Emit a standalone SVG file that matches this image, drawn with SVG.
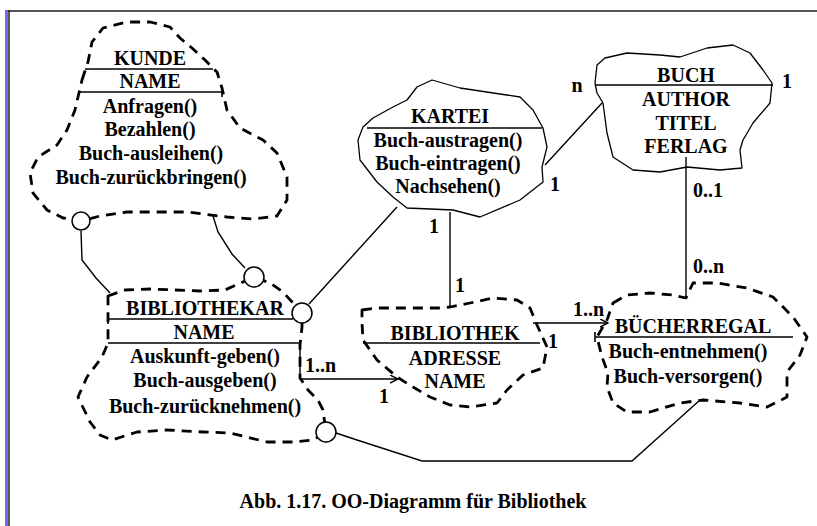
<svg xmlns="http://www.w3.org/2000/svg" width="817" height="526" viewBox="0 0 817 526">
<defs>
<style>
text{font-family:'Liberation Serif','DejaVu Serif',serif;font-weight:bold;font-size:20px;fill:#000}
.t{text-anchor:middle}
.dash{fill:none;stroke:#000;stroke-width:2.8;stroke-dasharray:10 7;stroke-linejoin:round}
.solid{fill:none;stroke:#000;stroke-width:1.3;stroke-linejoin:round}
.rule{stroke:#000;stroke-width:1.6;fill:none}
.ln{stroke:#000;stroke-width:1.4;fill:none}
.knob{fill:#fff;stroke:#000;stroke-width:1.5}
</style>
<marker id="arr" markerWidth="9" markerHeight="9" refX="8" refY="4" orient="auto" markerUnits="userSpaceOnUse">
<path d="M0,0 L8,4 L0,8" fill="none" stroke="#000" stroke-width="1.4"/>
</marker>
</defs>
<rect width="817" height="526" fill="#fff"/>
<g id="frame">
<line x1="8" y1="11" x2="817" y2="11" stroke="#555" stroke-width="2.2"/>
<line x1="6.5" y1="10" x2="6.5" y2="526" stroke="#6a6af5" stroke-width="3"/>
<line x1="9" y1="10" x2="9" y2="526" stroke="#222" stroke-width="1.5"/>
</g>
<g id="connectors">
<path class="ln" d="M81,231 L82,260 L96,278 L110,293"/>
<path class="ln" d="M213,216 L218,232 L232,254 L245,268"/>
<path class="ln" d="M309,304 L397,207"/>
<path class="ln" d="M450,212 V307"/>
<path class="ln" d="M545,165 L602,103"/>
<path class="ln" d="M686,157 V298"/>
<path class="ln" d="M533,323 H608" marker-end="url(#arr)"/>
<path class="ln" d="M300,343 V379 H398" marker-end="url(#arr)"/>
<path class="ln" d="M336,433 L357,440 L422,461 H632 L700,400"/>
</g>
<g id="kunde">
<path class="dash" d="M82,80 L88,62 L92,42 L103,28 L127,22 L150,22 L170,27 L180,38 L192,48 L205,60 L217,72 L222,88 L227,110 L240,128 L263,140 L277,153 L287,177 L287,200 L277,216 L253,219 L227,217 L187,212 L153,212 L127,212 L100,216 L81,221 L63,218 L47,210 L33,193 L30,173 L38,157 L57,145 L67,130 L75,110 L78,97 Z"/>
<circle class="knob" cx="81" cy="221" r="9"/>
<line class="rule" x1="85" y1="69" x2="213" y2="69"/>
<line class="rule" x1="78" y1="92" x2="222" y2="92"/>
<line class="rule" x1="222" y1="87" x2="222" y2="97"/>
<text class="t" x="150" y="65">KUNDE</text>
<text class="t" x="150" y="88">NAME</text>
<text class="t" x="150" y="113">Anfragen()</text>
<text class="t" x="150" y="136">Bezahlen()</text>
<text class="t" x="151" y="160">Buch-ausleihen()</text>
<text class="t" x="151" y="184">Buch-zurückbringen()</text>
</g>
<g id="kartei">
<path class="solid" d="M432,80 L460,88 L520,97 L533,110 L543,128 L547,147 L542,167 L543,182 L520,200 L480,217 L453,210 L407,208 L393,197 L377,182 L360,160 L358,140 L363,127 L373,118 L393,107 L407,100 L417,87 Z"/>
<line class="rule" x1="367" y1="128" x2="542" y2="128"/>
<text class="t" x="450" y="123">KARTEI</text>
<text class="t" x="448" y="147">Buch-austragen()</text>
<text class="t" x="448" y="170">Buch-eintragen()</text>
<text class="t" x="448" y="193">Nachsehen()</text>
</g>
<g id="buch">
<path class="solid" d="M595,83 L597,65 L605,58 L627,53 L660,55 L680,57 L707,48 L733,45 L750,53 L763,70 L772,83 L770,103 L753,123 L743,140 L740,150 L742,168 L720,170 L687,167 L660,172 L633,170 L613,157 L607,133 L603,103 L597,93 Z"/>
<line class="rule" x1="595" y1="85" x2="773" y2="85"/>
<text class="t" x="686" y="82">BUCH</text>
<text class="t" x="686" y="106">AUTHOR</text>
<text class="t" x="686" y="130">TITEL</text>
<text class="t" x="686" y="153">FERLAG</text>
</g>
<g id="bibliothekar">
<path class="dash" d="M108,296 L125,290 L150,289 L175,290 L200,291 L225,290 L254,277 L270,283 L283,292 L302,313 L302,327 L300,345 L300,378 L308,390 L318,400 L323,410 L326,432 L313,440 L293,442 L267,442 L230,433 L203,432 L167,430 L137,432 L112,440 L100,435 L90,422 L78,397 L87,377 L102,357 L108,343 L108,320 Z"/>
<circle class="knob" cx="254" cy="277" r="10"/>
<circle class="knob" cx="302" cy="313" r="10"/>
<circle class="knob" cx="326" cy="432" r="10"/>
<line class="rule" x1="108" y1="319" x2="293" y2="319"/>
<line class="rule" x1="108" y1="314" x2="108" y2="324"/>
<line class="rule" x1="108" y1="343" x2="300" y2="343"/>
<text class="t" x="205" y="315">BIBLIOTHEKAR</text>
<text class="t" x="204" y="339">NAME</text>
<text class="t" x="205" y="363">Auskunft-geben()</text>
<text class="t" x="205" y="387">Buch-ausgeben()</text>
<text class="t" x="205" y="413">Buch-zurücknehmen()</text>
</g>
<g id="bibliothek">
<path class="dash" d="M362,310 L377,308 L407,308 L440,308 L450,307 L470,303 L493,298 L517,300 L530,308 L537,325 L547,347 L543,368 L523,375 L507,390 L497,403 L470,407 L450,405 L430,397 L413,387 L397,377 L377,360 L363,340 L362,323 Z"/>
<line class="rule" x1="363" y1="343" x2="540" y2="343"/>
<text class="t" x="455" y="340">BIBLIOTHEK</text>
<text class="t" x="455" y="365">ADRESSE</text>
<text class="t" x="455" y="388">NAME</text>
</g>
<g id="buecherregal">
<path class="dash" d="M613,303 L627,295 L650,293 L673,295 L686,298 L693,283 L717,283 L747,288 L773,297 L793,317 L807,337 L800,355 L787,372 L787,397 L767,407 L740,403 L703,400 L680,403 L650,412 L627,412 L613,403 L607,387 L608,373 L602,357 L597,337 L607,320 Z"/>
<line class="rule" x1="595" y1="337" x2="793" y2="337"/>
<line class="rule" x1="595" y1="332" x2="595" y2="342"/>
<text class="t" x="693" y="333">BÜCHERREGAL</text>
<text class="t" x="688" y="358">Buch-entnehmen()</text>
<text class="t" x="688" y="383">Buch-versorgen()</text>
</g>
<g id="labels">
<text class="t" x="577" y="92">n</text>
<text class="t" x="787" y="88">1</text>
<text class="t" x="555" y="191">1</text>
<text class="t" x="434" y="233">1</text>
<text class="t" x="460" y="292">1</text>
<text x="693" y="197">0..1</text>
<text x="693" y="273">0..n</text>
<text x="573" y="316">1..n</text>
<text class="t" x="553" y="348">1</text>
<text x="305" y="372">1..n</text>
<text class="t" x="384" y="403">1</text>
</g>
<text class="t" x="413" y="508">Abb. 1.17.  OO-Diagramm für Bibliothek</text>
</svg>
